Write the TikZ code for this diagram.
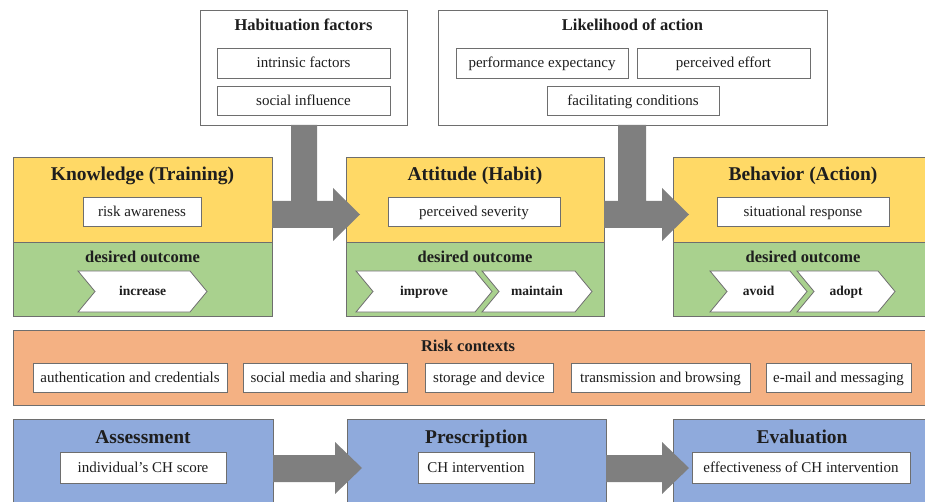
\documentclass[tikz,border=0pt]{standalone}
\usepackage{fontspec}
\setmainfont{Liberation Serif}
\definecolor{kyellow}{HTML}{FFD966}
\definecolor{kgreen}{HTML}{A9D18E}
\definecolor{korange}{HTML}{F4B183}
\definecolor{kblue}{HTML}{8FAADC}
\definecolor{karrow}{HTML}{7F7F7F}
\definecolor{kborder}{HTML}{6E6E6E}
\definecolor{ktext}{HTML}{1E1E1E}
\newcommand\kchev[4]{%
  \draw[chevst] (#2,271) -- ({#3-17},271) -- (#3,291.5) -- ({#3-17},312) -- (#2,312) -- ({#2+17},291.5) -- cycle;
  \node[chevlbl] (#1) at ({(#2+#3)/2},291.5) {#4};}
\begin{document}
\begin{tikzpicture}[x=1pt,y=-1pt,
  panel/.style={draw=kborder, line width=0.8pt, inner sep=0pt, anchor=north west},
  inbox/.style={draw=kborder, fill=white, line width=0.8pt, inner sep=0pt, text=ktext,
                font=\fontsize{15}{15}\selectfont, text height=10.4pt, text depth=0.4pt},
  bigtitle/.style={font=\fontsize{19.5}{20}\selectfont\bfseries, text=ktext, inner sep=0pt,
                text height=13.6pt, text depth=0pt},
  subtitle/.style={font=\fontsize{16.5}{17}\selectfont\bfseries, text=ktext, inner sep=0pt,
                text height=11.5pt, text depth=0.5pt},
  chevst/.style={draw=kborder, fill=white, line width=0.8pt, line join=miter},
  chevlbl/.style={font=\fontsize{13.5}{14}\selectfont\bfseries, text=ktext, inner sep=0pt,
                text height=9.4pt, text depth=1pt},
  blockarrow/.style={fill=karrow, draw=none}]
\useasboundingbox (0,0) rectangle (925,502);
\clip (0,0) rectangle (925,502);

% ---------- top factor boxes ----------
\node[panel, fill=white, minimum width=207, minimum height=115] (hab) at (200,10) {};
\node[subtitle] (habT) at (303.5,25) {Habituation factors};
\node[inbox, minimum width=173, minimum height=30] (intr) at (303.5,63) {intrinsic factors};
\node[inbox, minimum width=173, minimum height=29] (soc) at (303.5,100.5) {social influence};

\node[panel, fill=white, minimum width=389, minimum height=115] (lik) at (438,10) {};
\node[subtitle] (likT) at (632.5,25) {Likelihood of action};
\node[inbox, minimum width=172, minimum height=30] (perf) at (542,63) {performance expectancy};
\node[inbox, minimum width=173, minimum height=30] (peff) at (723.5,63) {perceived effort};
\node[inbox, minimum width=172, minimum height=29] (facil) at (633,100.5) {facilitating conditions};

% ---------- stage boxes ----------
\node[panel, fill=kyellow, minimum width=259, minimum height=85] (kY) at (13,157) {};
\node[panel, fill=kgreen, minimum width=259, minimum height=74] (kG) at (13,242) {};
\node[bigtitle] (kT) at (142.5,173.3) {Knowledge (Training)};
\node[inbox, minimum width=118, minimum height=29] (risk) at (142,211.5) {risk awareness};
\node[subtitle] (kD) at (142.5,256.5) {desired outcome};
\kchev{inc}{78}{207}{increase}

\node[panel, fill=kyellow, minimum width=258, minimum height=85] (aY) at (346,157) {};
\node[panel, fill=kgreen, minimum width=258, minimum height=74] (aG) at (346,242) {};
\node[bigtitle] (aT) at (475,173.3) {Attitude (Habit)};
\node[inbox, minimum width=172, minimum height=29] (sev) at (474,211.5) {perceived severity};
\node[subtitle] (aD) at (475,256.5) {desired outcome};
\kchev{impr}{356}{492}{improve}
\kchev{mnt}{482}{592}{maintain}

\node[panel, fill=kyellow, minimum width=260, minimum height=85] (bY) at (673,157) {};
\node[panel, fill=kgreen, minimum width=260, minimum height=74] (bG) at (673,242) {};
\node[bigtitle] (bT) at (803,173.3) {Behavior (Action)};
\node[inbox, minimum width=172, minimum height=29] (sit) at (803,212) {situational response};
\node[subtitle] (bD) at (803,256.5) {desired outcome};
\kchev{avd}{710}{807}{avoid}
\kchev{adp}{797}{895}{adopt}

% ---------- block arrows (top) ----------
\path[blockarrow] (291,125) -- (317,125) -- (317,201) -- (333,201) -- (333,188) -- (360,214.5)
  -- (333,241) -- (333,228) -- (272,228) -- (272,201) -- (291,201) -- cycle;
\path[blockarrow] (618,125) -- (646,125) -- (646,201) -- (662,201) -- (662,188) -- (689,214.5)
  -- (662,241) -- (662,228) -- (604,228) -- (604,201) -- (618,201) -- cycle;

% ---------- risk contexts ----------
\node[panel, fill=korange, minimum width=920, minimum height=75] (rc) at (13,330) {};
\node[subtitle] (rcT) at (468,345.5) {Risk contexts};
\node[inbox, minimum width=194, minimum height=29] (r1) at (130,377.5) {authentication and credentials};
\node[inbox, minimum width=164, minimum height=29] (r2) at (325,377.5) {social media and sharing};
\node[inbox, minimum width=128, minimum height=29] (r3) at (489,377.5) {storage and device};
\node[inbox, minimum width=179, minimum height=29] (r4) at (660.5,377.5) {transmission and browsing};
\node[inbox, minimum width=145, minimum height=29] (r5) at (838.5,377.5) {e-mail and messaging};

% ---------- bottom process ----------
\node[panel, fill=kblue, minimum width=260, minimum height=95] (as) at (13,419) {};
\node[bigtitle] (asT) at (143,436.5) {Assessment};
\node[inbox, minimum width=166, minimum height=31] (asI) at (143,467.5) {individual’s CH score};

\node[panel, fill=kblue, minimum width=259, minimum height=95] (pr) at (347,419) {};
\node[bigtitle] (prT) at (476.5,436.5) {Prescription};
\node[inbox, minimum width=116, minimum height=31] (prI) at (476,467.5) {CH intervention};

\node[panel, fill=kblue, minimum width=260, minimum height=95] (ev) at (673,419) {};
\node[bigtitle] (evT) at (802,436.5) {Evaluation};
\node[inbox, minimum width=218, minimum height=31] (evI) at (801,467.5) {effectiveness of CH intervention};

\path[blockarrow] (273,455) -- (335,455) -- (335,442) -- (362,468) -- (335,494) -- (335,482) -- (273,482) -- cycle;
\path[blockarrow] (606,455) -- (662,455) -- (662,442) -- (689,468) -- (662,494) -- (662,482) -- (606,482) -- cycle;
\end{tikzpicture}
\end{document}
